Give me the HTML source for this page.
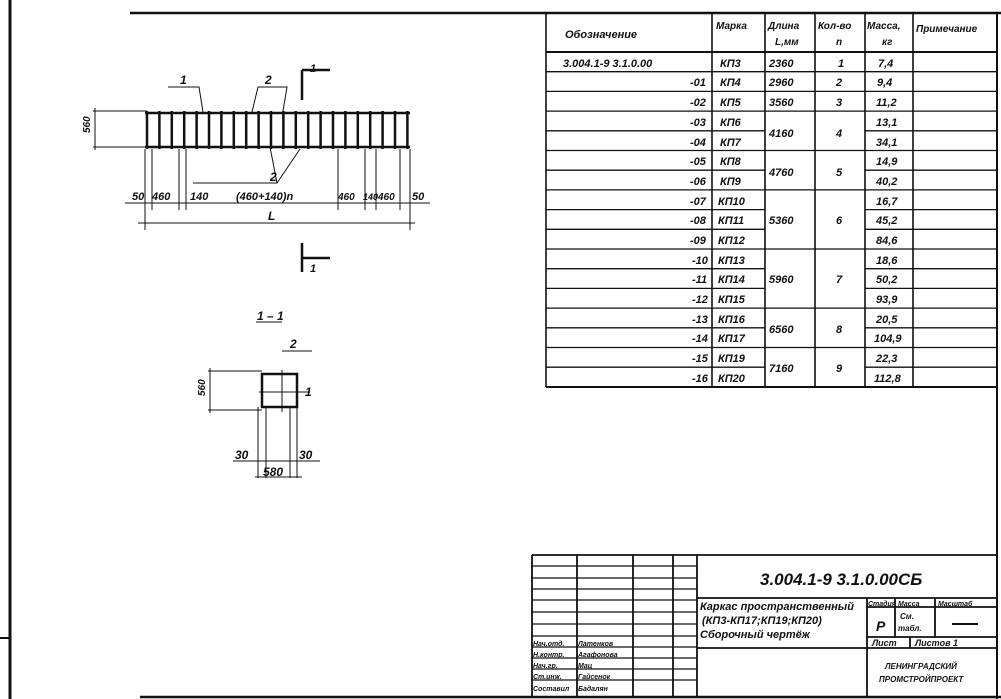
<!DOCTYPE html>
<html><head><meta charset="utf-8"><style>
html,body{margin:0;padding:0;background:#fff;}
svg{display:block;}
text{font-family:"Liberation Sans",sans-serif;font-style:italic;font-weight:bold;fill:#111;}
</style></head><body>
<svg width="1001" height="699" viewBox="0 0 1001 699" xmlns="http://www.w3.org/2000/svg">
<g stroke="#111" fill="none">
<!-- frame -->
<line x1="10" y1="0" x2="10" y2="699" stroke-width="3"/>
<line x1="0" y1="638" x2="10" y2="638" stroke-width="2"/>
<line x1="130" y1="13" x2="1001" y2="13" stroke-width="2.5"/>
<line x1="997" y1="13" x2="997" y2="699" stroke-width="2"/>
<line x1="140" y1="697" x2="1001" y2="697" stroke-width="2.5"/>

<!-- table -->
<g stroke-width="1.6">
<line x1="546" y1="13" x2="546" y2="387"/>
<line x1="712" y1="13" x2="712" y2="387"/>
<line x1="765" y1="13" x2="765" y2="387"/>
<line x1="815" y1="13" x2="815" y2="387"/>
<line x1="865" y1="13" x2="865" y2="387"/>
<line x1="913" y1="13" x2="913" y2="387"/>
<line x1="546" y1="52" x2="997" y2="52" stroke-width="2"/>
<line x1="546" y1="387" x2="997" y2="387" stroke-width="2"/>
</g>
<g stroke-width="1.3">
<path d="M546 71.7H997M546 91.4H997M546 111.1H997M546 130.8H765M865 130.8H997M546 150.5H997M546 170.2H765M865 170.2H997M546 189.9H997M546 209.6H765M865 209.6H997M546 229.3H765M865 229.3H997M546 249H997M546 268.7H765M865 268.7H997M546 288.4H765M865 288.4H997M546 308.1H997M546 327.8H765M865 327.8H997M546 347.5H997M546 367.2H765M865 367.2H997"/>
</g>

<!-- beam drawing -->
<g stroke-width="2.5">
<line x1="145" y1="113" x2="410" y2="113"/>
<line x1="145" y1="147" x2="410" y2="147"/>
<path d="M147 111V149M159.4 111V149M171.8 111V149M184.2 111V149M196.6 111V149M209 111V149M221.4 111V149M233.8 111V149M246.2 111V149M258.6 111V149M271 111V149M283.4 111V149M295.8 111V149M308.2 111V149M320.6 111V149M333 111V149M345.4 111V149M357.8 111V149M370.2 111V149M382.6 111V149M395 111V149M407.4 111V149"/>
</g>
<g stroke-width="1">
<path d="M93 111H147M93 147H147M95 108V150"/>
<path d="M145 149V230M152 149V210M179 149V210M186 149V210M338 149V210M365 149V210M376 149V210M400 149V210M410 149V230"/>
<path d="M125 203H430M138 223H415"/>
<path d="M168 87H199L203 112M258 87H287L283 111M258 87L252 112M193 183H277L300 149M277 183L270 147"/>
</g>
<path d="M302 70V100M302 70H330M302 243V272M302 258H330" stroke-width="2.5"/>

<!-- section 1-1 -->
<g stroke-width="2.5">
<rect x="262" y="374" width="35" height="33"/>
</g>
<g stroke-width="1">
<path d="M259 392H310M282 370V412M282 351H312M208 371H262M208 410H262M210 368V413"/>
<path d="M258 407V478M266 407V478M290 407V478M297 407V478M233 461H320M255 477H302"/>
<path d="M256 322H282"/>
</g>

<!-- title block -->
<g stroke-width="1.8">
<line x1="532" y1="555" x2="997" y2="555"/>
<line x1="532" y1="555" x2="532" y2="697"/>
<line x1="577" y1="555" x2="577" y2="697"/>
<line x1="633" y1="555" x2="633" y2="697"/>
<line x1="673" y1="555" x2="673" y2="697"/>
<line x1="697" y1="555" x2="697" y2="697"/>
<line x1="697" y1="598" x2="997" y2="598"/>
<line x1="697" y1="648" x2="997" y2="648"/>
<line x1="867" y1="598" x2="867" y2="697"/>
<line x1="867" y1="607" x2="997" y2="607"/>
<line x1="867" y1="637" x2="997" y2="637"/>
<line x1="895" y1="598" x2="895" y2="637"/>
<line x1="935" y1="598" x2="935" y2="637"/>
<line x1="910" y1="637" x2="910" y2="648"/>
</g>
<g stroke-width="1.2">
<path d="M532 566H697M532 578H697M532 589H697M532 600H697M532 612H697M532 624H697M532 636H697M532 647H697M532 658H697M532 669H697M532 680H697"/>
</g>
</g>

<!-- table text -->
<text x="565" y="38" font-size="11">Обозначение</text>
<text x="716" y="29" font-size="10">Марка</text>
<text x="768" y="29" font-size="10">Длина</text>
<text x="775" y="45" font-size="10">L,мм</text>
<text x="818" y="29" font-size="10">Кол-во</text>
<text x="836" y="45" font-size="10">n</text>
<text x="867" y="29" font-size="10">Масса,</text>
<text x="882" y="45" font-size="10">кг</text>
<text x="916" y="32" font-size="10">Примечание</text>
<g font-size="11">
<text x="563" y="67">3.004.1-9  3.1.0.00</text>
<text x="720" y="67">КП3</text><text x="769" y="67">2360</text><text x="838" y="67">1</text><text x="878" y="67">7,4</text>
<text x="690" y="86">-01</text><text x="720" y="86">КП4</text><text x="769" y="86">2960</text><text x="836" y="86">2</text><text x="877" y="86">9,4</text>
<text x="690" y="106">-02</text><text x="720" y="106">КП5</text><text x="769" y="106">3560</text><text x="836" y="106">3</text><text x="876" y="106">11,2</text>
<text x="690" y="126">-03</text><text x="720" y="126">КП6</text><text x="769" y="137">4160</text><text x="836" y="137">4</text><text x="876" y="126">13,1</text>
<text x="690" y="146">-04</text><text x="720" y="146">КП7</text><text x="876" y="146">34,1</text>
<text x="690" y="165">-05</text><text x="720" y="165">КП8</text><text x="769" y="176">4760</text><text x="836" y="176">5</text><text x="876" y="165">14,9</text>
<text x="690" y="185">-06</text><text x="720" y="185">КП9</text><text x="876" y="185">40,2</text>
<text x="690" y="205">-07</text><text x="718" y="205">КП10</text><text x="876" y="205">16,7</text>
<text x="690" y="224">-08</text><text x="718" y="224">КП11</text><text x="769" y="224">5360</text><text x="836" y="224">6</text><text x="876" y="224">45,2</text>
<text x="690" y="244">-09</text><text x="718" y="244">КП12</text><text x="876" y="244">84,6</text>
<text x="692" y="264">-10</text><text x="718" y="264">КП13</text><text x="876" y="264">18,6</text>
<text x="692" y="283">-11</text><text x="718" y="283">КП14</text><text x="769" y="283">5960</text><text x="836" y="283">7</text><text x="876" y="283">50,2</text>
<text x="692" y="303">-12</text><text x="718" y="303">КП15</text><text x="876" y="303">93,9</text>
<text x="692" y="323">-13</text><text x="718" y="323">КП16</text><text x="769" y="333">6560</text><text x="836" y="333">8</text><text x="876" y="323">20,5</text>
<text x="692" y="342">-14</text><text x="718" y="342">КП17</text><text x="874" y="342">104,9</text>
<text x="692" y="362">-15</text><text x="718" y="362">КП19</text><text x="769" y="372">7160</text><text x="836" y="372">9</text><text x="876" y="362">22,3</text>
<text x="692" y="382">-16</text><text x="718" y="382">КП20</text><text x="874" y="382">112,8</text>
</g>

<!-- drawing labels -->
<g font-size="12">
<text x="180" y="84">1</text>
<text x="265" y="84">2</text>
<text x="310" y="72" font-size="11">1</text>
<text x="270" y="181">2</text>
<text x="132" y="200" font-size="11">50</text>
<text x="152" y="200" font-size="11">460</text>
<text x="190" y="200" font-size="11">140</text>
<text x="236" y="200" font-size="11">(460+140)n</text>
<text x="338" y="200" font-size="10">460</text>
<text x="363" y="200" font-size="9">140</text>
<text x="378" y="200" font-size="10">460</text>
<text x="412" y="200" font-size="11">50</text>
<text x="268" y="220">L</text>
<text x="310" y="272" font-size="11">1</text>
<text x="90" y="133" font-size="10" transform="rotate(-90 90 133)">560</text>
<text x="257" y="320">1 – 1</text>
<text x="290" y="348">2</text>
<text x="305" y="396">1</text>
<text x="205" y="396" font-size="10" transform="rotate(-90 205 396)">560</text>
<text x="235" y="459">30</text>
<text x="299" y="459">30</text>
<text x="263" y="476">580</text>
</g>

<!-- title block text -->
<text x="760" y="585" font-size="17">3.004.1-9   3.1.0.00СБ</text>
<g font-size="11">
<text x="700" y="610">Каркас пространственный</text>
<text x="702" y="624">(КП3-КП17;КП19;КП20)</text>
<text x="700" y="638">Сборочный чертёж</text>
</g>
<text x="868" y="606" font-size="7">Стадия</text>
<text x="898" y="606" font-size="7">Масса</text>
<text x="938" y="606" font-size="7">Масштаб</text>
<text x="876" y="631" font-size="14" font-style="normal">Р</text>
<text x="900" y="619" font-size="8">См.</text>
<text x="898" y="631" font-size="8">табл.</text>
<line x1="952" y1="624" x2="978" y2="624" stroke="#111" stroke-width="2"/>
<text x="872" y="646" font-size="9">Лист</text>
<text x="915" y="646" font-size="9">Листов 1</text>
<text x="885" y="669" font-size="8" font-style="normal">ЛЕНИНГРАДСКИЙ</text>
<text x="879" y="682" font-size="8" font-style="normal">ПРОМСТРОЙПРОЕКТ</text>
<g font-size="7">
<text x="533" y="646">Нач.отд.</text><text x="578" y="646">Латенков</text>
<text x="533" y="657">Н.контр.</text><text x="578" y="657">Агафонова</text>
<text x="533" y="668">Нач.гр.</text><text x="578" y="668">Мац</text>
<text x="533" y="679">Ст.инж.</text><text x="578" y="679">Гайсенок</text>
<text x="533" y="691">Составил</text><text x="578" y="691">Бадалян</text>
</g>
</svg>
</body></html>
